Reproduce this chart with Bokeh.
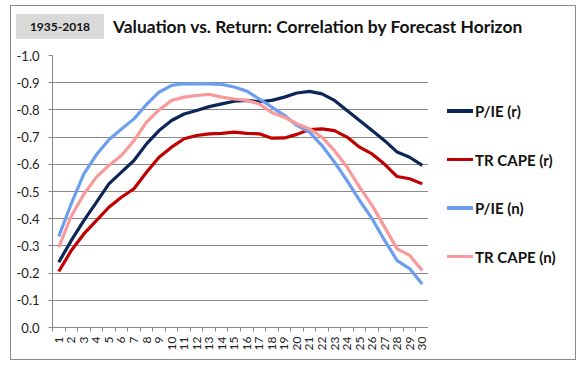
from bokeh.plotting import figure
from bokeh.models import Range1d, FixedTicker, NumeralTickFormatter, Div
from bokeh.layouts import column, row
from bokeh.embed import file_html
from bokeh.resources import INLINE

# ---- data ----
horizons = list(range(1, 31))
tick_labels = [str(h) for h in horizons]
y_ticks = [0.0, -0.1, -0.2, -0.3, -0.4, -0.5, -0.6, -0.7, -0.8, -0.9, -1.0]

pie_r = [-0.240, -0.320, -0.393, -0.460, -0.528, -0.571, -0.614, -0.675, -0.724, -0.761,
         -0.785, -0.798, -0.812, -0.822, -0.832, -0.835, -0.830, -0.835, -0.847, -0.862,
         -0.868, -0.859, -0.835, -0.798, -0.761, -0.724, -0.687, -0.645, -0.626, -0.596]
tr_r = [-0.206, -0.283, -0.344, -0.393, -0.442, -0.479, -0.510, -0.571, -0.626, -0.663,
        -0.694, -0.706, -0.712, -0.714, -0.718, -0.714, -0.712, -0.696, -0.697, -0.710,
        -0.728, -0.730, -0.724, -0.700, -0.663, -0.638, -0.600, -0.555, -0.547, -0.528]
pie_n = [-0.335, -0.455, -0.565, -0.635, -0.690, -0.730, -0.767, -0.820, -0.865, -0.890,
         -0.896, -0.896, -0.896, -0.894, -0.884, -0.869, -0.840, -0.810, -0.780, -0.743,
         -0.718, -0.669, -0.608, -0.540, -0.467, -0.400, -0.320, -0.246, -0.216, -0.160]
tr_n = [-0.295, -0.410, -0.490, -0.553, -0.596, -0.632, -0.687, -0.755, -0.800, -0.835,
        -0.847, -0.853, -0.857, -0.847, -0.840, -0.835, -0.822, -0.790, -0.773, -0.749,
        -0.730, -0.700, -0.650, -0.590, -0.516, -0.449, -0.369, -0.289, -0.265, -0.210]

series = [
    ("P/IE (r)", pie_r, "#0c2659"),
    ("TR CAPE (r)", tr_r, "#c00000"),
    ("P/IE (n)", pie_n, "#6c9ef0"),
    ("TR CAPE (n)", tr_n, "#f99a9a"),
]

title_text = "Valuation vs. Return: Correlation by Forecast Horizon"
period_text = "1935-2018"

FONT = "Lato"
GRID = "#8a8a8a"
W = 564
PW = 417
PH = 313
LW = W - PW

header = Div(
    text=(
        f'<div style="position:relative;width:{W}px;height:40px;font-family:{FONT};color:#111;">'
        f'<div style="position:absolute;left:5px;top:8px;width:88px;height:25px;'
        f'background:#d9d9d9;font-size:12px;font-weight:bold;line-height:25px;'
        f'text-align:center;">{period_text}</div>'
        f'<div style="position:absolute;left:102px;top:9px;font-size:17.4px;'
        f'font-weight:bold;line-height:24px;white-space:nowrap;">{title_text}</div>'
        f'</div>'
    ),
    width=W, height=40, margin=0,
)

p = figure(width=PW, height=PH, output_backend="svg", toolbar_location=None,
           title=None, x_range=Range1d(0.5, 30.5), y_range=Range1d(0.0, -1.0),
           min_border_left=41, min_border_right=0, min_border_top=9,
           min_border_bottom=32, margin=0)
p.outline_line_color = None
p.background_fill_color = "white"
p.border_fill_color = "white"

# x axis
p.xaxis.ticker = FixedTicker(ticks=horizons,
                             minor_ticks=[h - 0.5 for h in horizons] + [30.5])
p.xaxis.major_label_overrides = {h: lab for h, lab in zip(horizons, tick_labels)}
p.xaxis.major_label_orientation = 3.14159265 / 2
p.xaxis.major_tick_out = 0
p.xaxis.major_tick_in = 0
p.xaxis.minor_tick_out = 4
p.xaxis.minor_tick_in = 0
p.xaxis.minor_tick_line_color = GRID
p.xaxis.axis_line_color = GRID
p.xaxis.major_label_standoff = 5
p.xaxis.major_label_text_font = FONT
p.xaxis.major_label_text_font_size = "12px"
p.xaxis.major_label_text_color = "#222222"

# y axis
p.yaxis.ticker = FixedTicker(ticks=y_ticks)
p.yaxis.formatter = NumeralTickFormatter(format="0.0")
p.yaxis.major_tick_out = 4
p.yaxis.major_tick_in = 0
p.yaxis.minor_tick_line_color = None
p.yaxis.major_tick_line_color = GRID
p.yaxis.axis_line_color = GRID
p.yaxis.major_label_standoff = 9
p.yaxis.major_label_text_font = FONT
p.yaxis.major_label_text_font_size = "13px"
p.yaxis.major_label_text_color = "#222222"

p.xgrid.grid_line_color = None
p.ygrid.grid_line_color = GRID
p.ygrid.grid_line_width = 1

for name, vals, col in series:
    p.line(horizons, vals, line_color=col, line_width=3.2)

# legend (HTML, beside the plot)
legend_rows = []
for k, (name, vals, col) in enumerate(series):
    cy = 65 + 48.5 * k
    legend_rows.append(
        f'<div style="position:absolute;left:19px;top:{cy - 1.75:.1f}px;width:26px;'
        f'height:3.5px;background:{col};"></div>'
        f'<div style="position:absolute;left:47px;top:{cy - 12:.1f}px;height:24px;'
        f'line-height:24px;font-size:15px;font-weight:bold;white-space:nowrap;">{name}</div>'
    )
legend_div = Div(
    text=(f'<div style="position:relative;width:{LW}px;height:{PH}px;'
          f'font-family:{FONT};color:#111;">' + "".join(legend_rows) + '</div>'),
    width=LW, height=PH, margin=0,
)

layout = column(header, row(p, legend_div, spacing=0, margin=0),
                margin=(5, 0, 0, 10), spacing=0,
                styles={"border": "1px solid #8c8c8c"})

open("out.html", "w").write(file_html(layout, INLINE))
